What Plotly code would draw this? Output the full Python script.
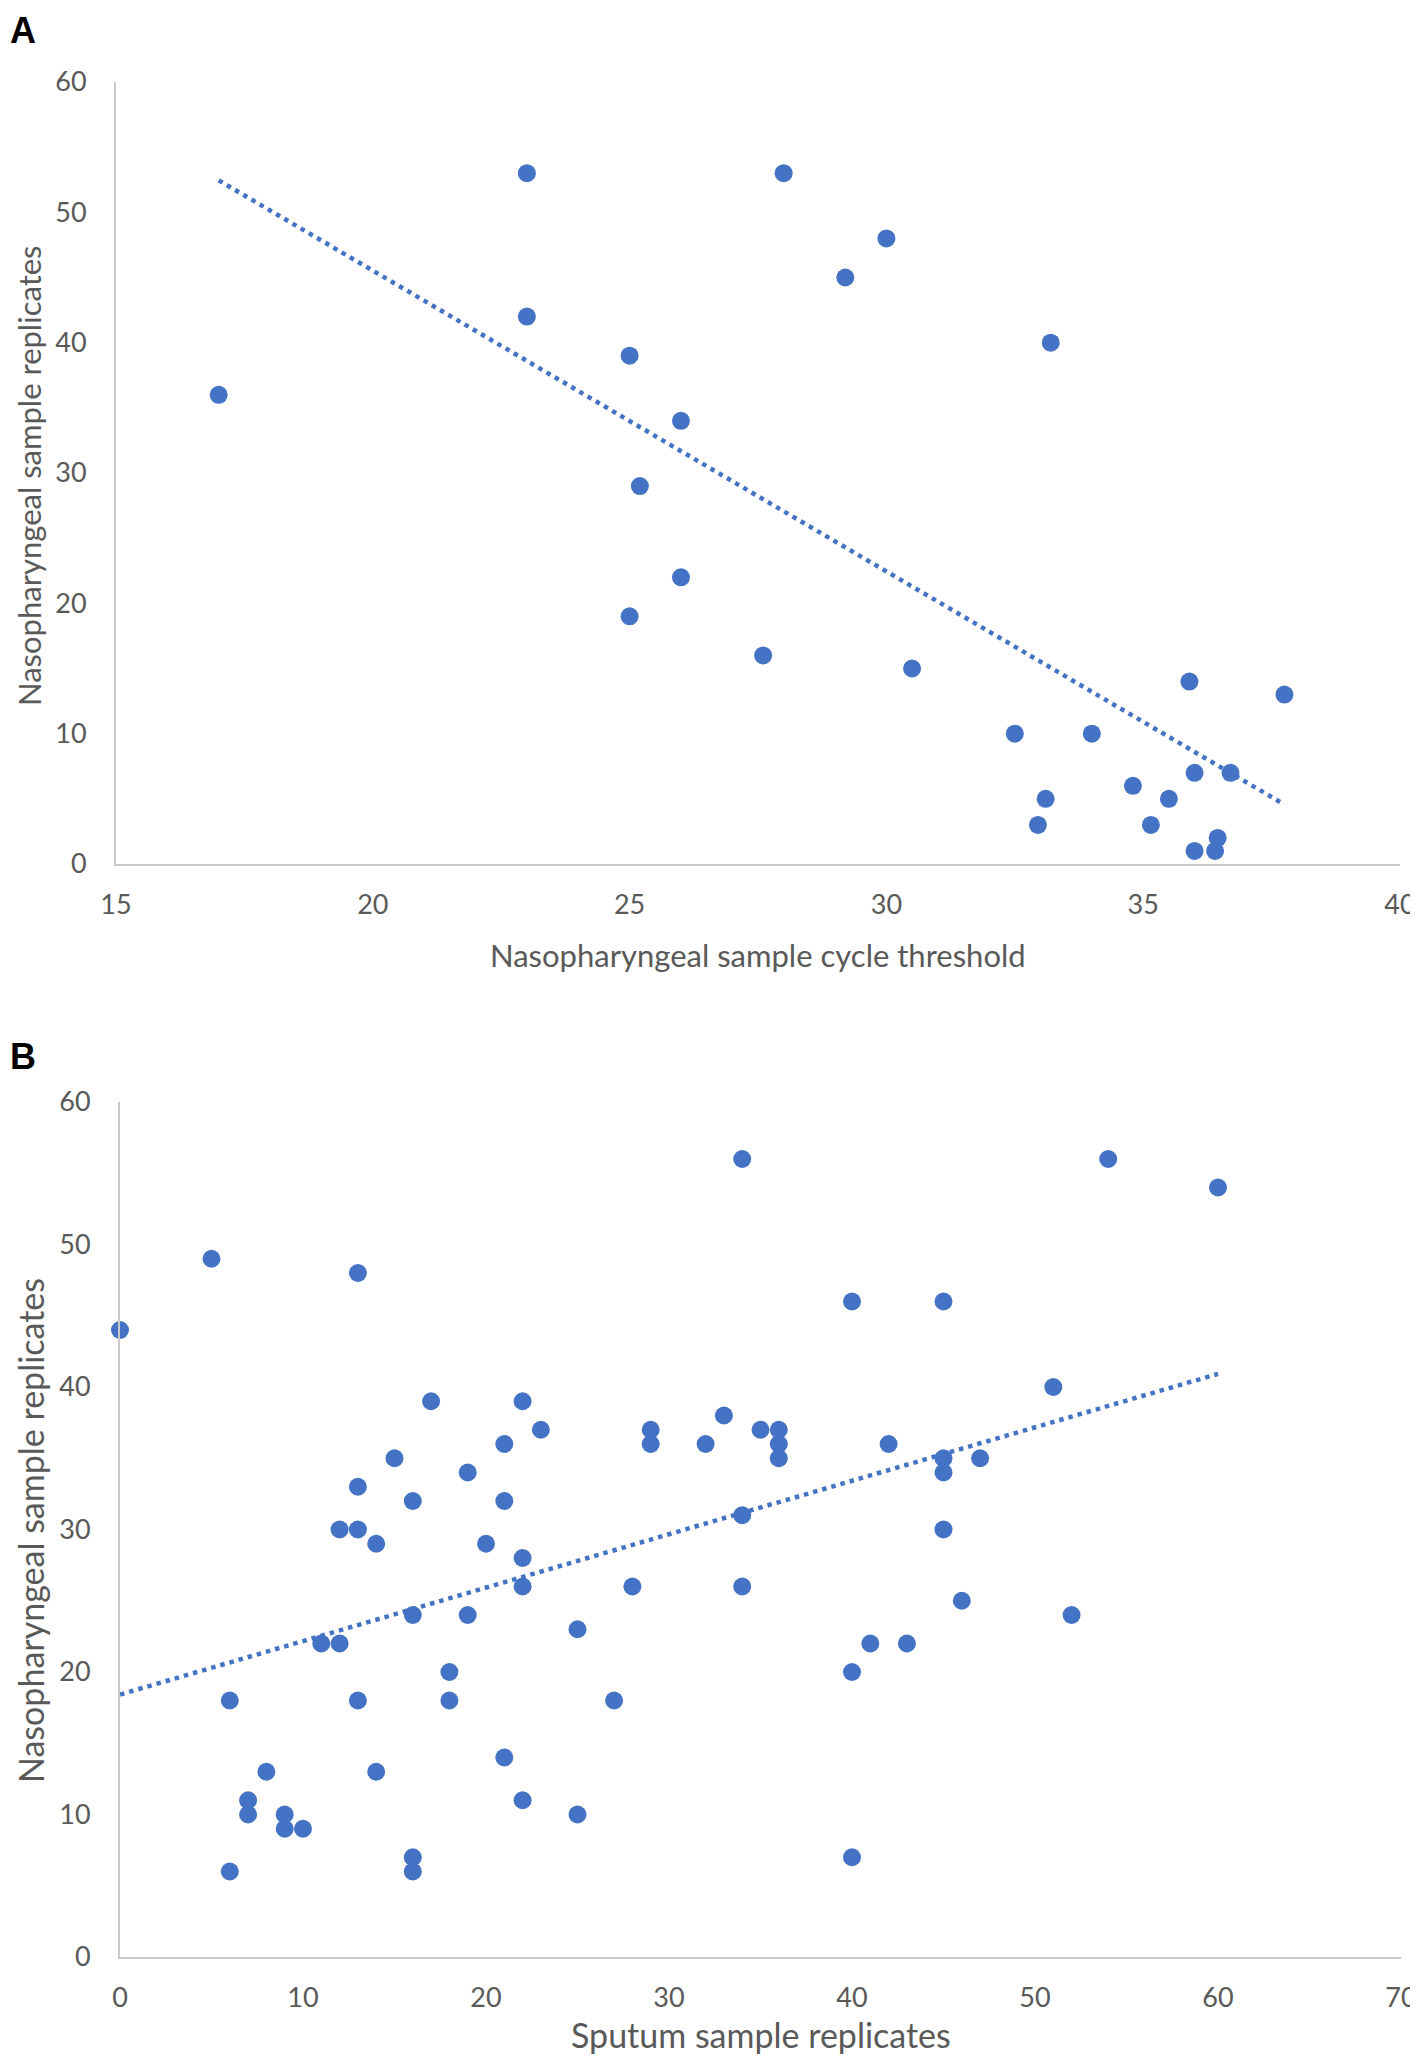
import numpy as np
import plotly.graph_objects as go

# Panel A data: Nasopharyngeal Ct vs Nasopharyngeal replicates
a_ct = [17.0, 23.0, 28.0, 30.0, 29.2, 23.0, 33.2, 25.0, 26.0, 25.2, 26.0, 25.0, 27.6, 30.5,
        35.9, 37.75, 32.5, 34.0, 36.0, 36.7, 34.8, 33.1, 35.5, 32.95, 35.15, 36.45, 36.0, 36.4]
a_rep = [36, 53, 53, 48, 45, 42, 40, 39, 34, 29, 22, 19, 16, 15,
         14, 13, 10, 10, 7, 7, 6, 5, 5, 3, 3, 2, 1, 1]

# Panel B data: Sputum replicates vs Nasopharyngeal replicates
b_sput = [0, 5, 13, 34, 54, 60, 40, 45, 51, 17, 22, 33, 23, 29, 35, 36, 21, 29, 32, 36, 42,
          15, 36, 45, 47, 19, 45, 13, 16, 21, 34, 12, 13, 45, 14, 20, 22, 22, 28, 34, 46,
          16, 19, 52, 25, 11, 12, 41, 43, 18, 40, 6, 13, 18, 27, 21, 8, 14, 7, 22, 7, 9,
          25, 9, 10, 16, 40, 6, 16]
b_naso = [44, 49, 48, 56, 56, 54, 46, 46, 40, 39, 39, 38, 37, 37, 37, 37, 36, 36, 36, 36, 36,
          35, 35, 35, 35, 34, 34, 33, 32, 32, 31, 30, 30, 30, 29, 29, 28, 26, 26, 26, 25,
          24, 24, 24, 23, 22, 22, 22, 22, 20, 20, 18, 18, 18, 18, 14, 13, 13, 11, 11, 10, 10,
          10, 9, 9, 7, 7, 6, 6]

a_xticks = [15, 20, 25, 30, 35, 40]
b_xticks = [0, 10, 20, 30, 40, 50, 60, 70]
yticks = [0, 10, 20, 30, 40, 50, 60]

BLUE = "#4472C4"
GRAY = "#595959"
AXC = "#c9c9c9"
FONT = "Lato, 'Open Sans', sans-serif"

# page body has an 8px margin: draw the figure smaller and map page pixels to paper
OFF = 8
W, H = 1418 - OFF, 2068 - 2 * OFF


def px(x):
    return (x - OFF) / W


def py(y):
    return 1 - (y - OFF) / H


def trend(x, y):
    m, c = np.polyfit(x, y, 1)
    xs = np.array([min(x), max(x)], dtype=float)
    return xs, m * xs + c


fig = go.Figure()

fig.add_trace(go.Scatter(x=a_ct, y=a_rep, mode="markers", xaxis="x", yaxis="y",
                         marker=dict(color=BLUE, size=18), cliponaxis=False, showlegend=False))
tx, ty = trend(a_ct, a_rep)
fig.add_trace(go.Scatter(x=tx, y=ty, mode="lines", xaxis="x", yaxis="y",
                         line=dict(color=BLUE, width=4.5, dash="4.5px,5px"), showlegend=False))

fig.add_trace(go.Scatter(x=b_sput, y=b_naso, mode="markers", xaxis="x2", yaxis="y2",
                         marker=dict(color=BLUE, size=18), cliponaxis=False, showlegend=False))
tx2, ty2 = trend(b_sput, b_naso)
fig.add_trace(go.Scatter(x=tx2, y=ty2, mode="lines", xaxis="x2", yaxis="y2",
                         line=dict(color=BLUE, width=4.5, dash="4.5px,5px"), showlegend=False))

axis_common = dict(showgrid=False, zeroline=False, showline=True, linecolor=AXC, linewidth=2,
                   ticks="", automargin=False,
                   tickfont=dict(family=FONT, size=27, color=GRAY))

fig.update_layout(
    template="none",
    width=W, height=H,
    margin=dict(l=0, r=0, t=0, b=0, autoexpand=False),
    paper_bgcolor="white", plot_bgcolor="white",
    xaxis=dict(domain=[px(116), px(1400)], range=[15, 40], tickvals=a_xticks,
               anchor="y", ticklabelstandoff=16, **axis_common),
    yaxis=dict(domain=[py(864), py(82)], range=[0, 60], tickvals=yticks,
               anchor="x", ticklabelstandoff=22, **axis_common),
    xaxis2=dict(domain=[px(120), px(1401)], range=[0, 70], tickvals=b_xticks,
                anchor="y2", ticklabelstandoff=16, **axis_common),
    yaxis2=dict(domain=[py(1957), py(1102)], range=[0, 60], tickvals=yticks,
                anchor="x2", ticklabelstandoff=22, **axis_common),
    annotations=[
        dict(text="<b>A</b>", x=0, y=1, xref="paper", yref="paper", xanchor="left",
             yanchor="top", showarrow=False,
             font=dict(family="Liberation Sans, Arial", size=36, color="black")),
        dict(text="<b>B</b>", x=0, y=py(1034), xref="paper", yref="paper", xanchor="left",
             yanchor="top", showarrow=False,
             font=dict(family="Liberation Sans, Arial", size=36, color="black")),
        dict(text="Nasopharyngeal sample cycle threshold", x=px(758), y=py(955),
             xref="paper", yref="paper", xanchor="center", yanchor="middle", showarrow=False,
             font=dict(family=FONT, size=31, color=GRAY)),
        dict(text="Nasopharyngeal sample replicates", x=px(29), y=py(476),
             xref="paper", yref="paper", xanchor="center", yanchor="middle", showarrow=False,
             textangle=-90, font=dict(family=FONT, size=31, color=GRAY)),
        dict(text="Sputum sample replicates", x=px(761), y=py(2034),
             xref="paper", yref="paper", xanchor="center", yanchor="middle", showarrow=False,
             font=dict(family=FONT, size=34, color=GRAY)),
        dict(text="Nasopharyngeal sample replicates", x=px(30), y=py(1531),
             xref="paper", yref="paper", xanchor="center", yanchor="middle", showarrow=False,
             textangle=-90, font=dict(family=FONT, size=34, color=GRAY)),
    ],
)

fig.write_html("out.html")
